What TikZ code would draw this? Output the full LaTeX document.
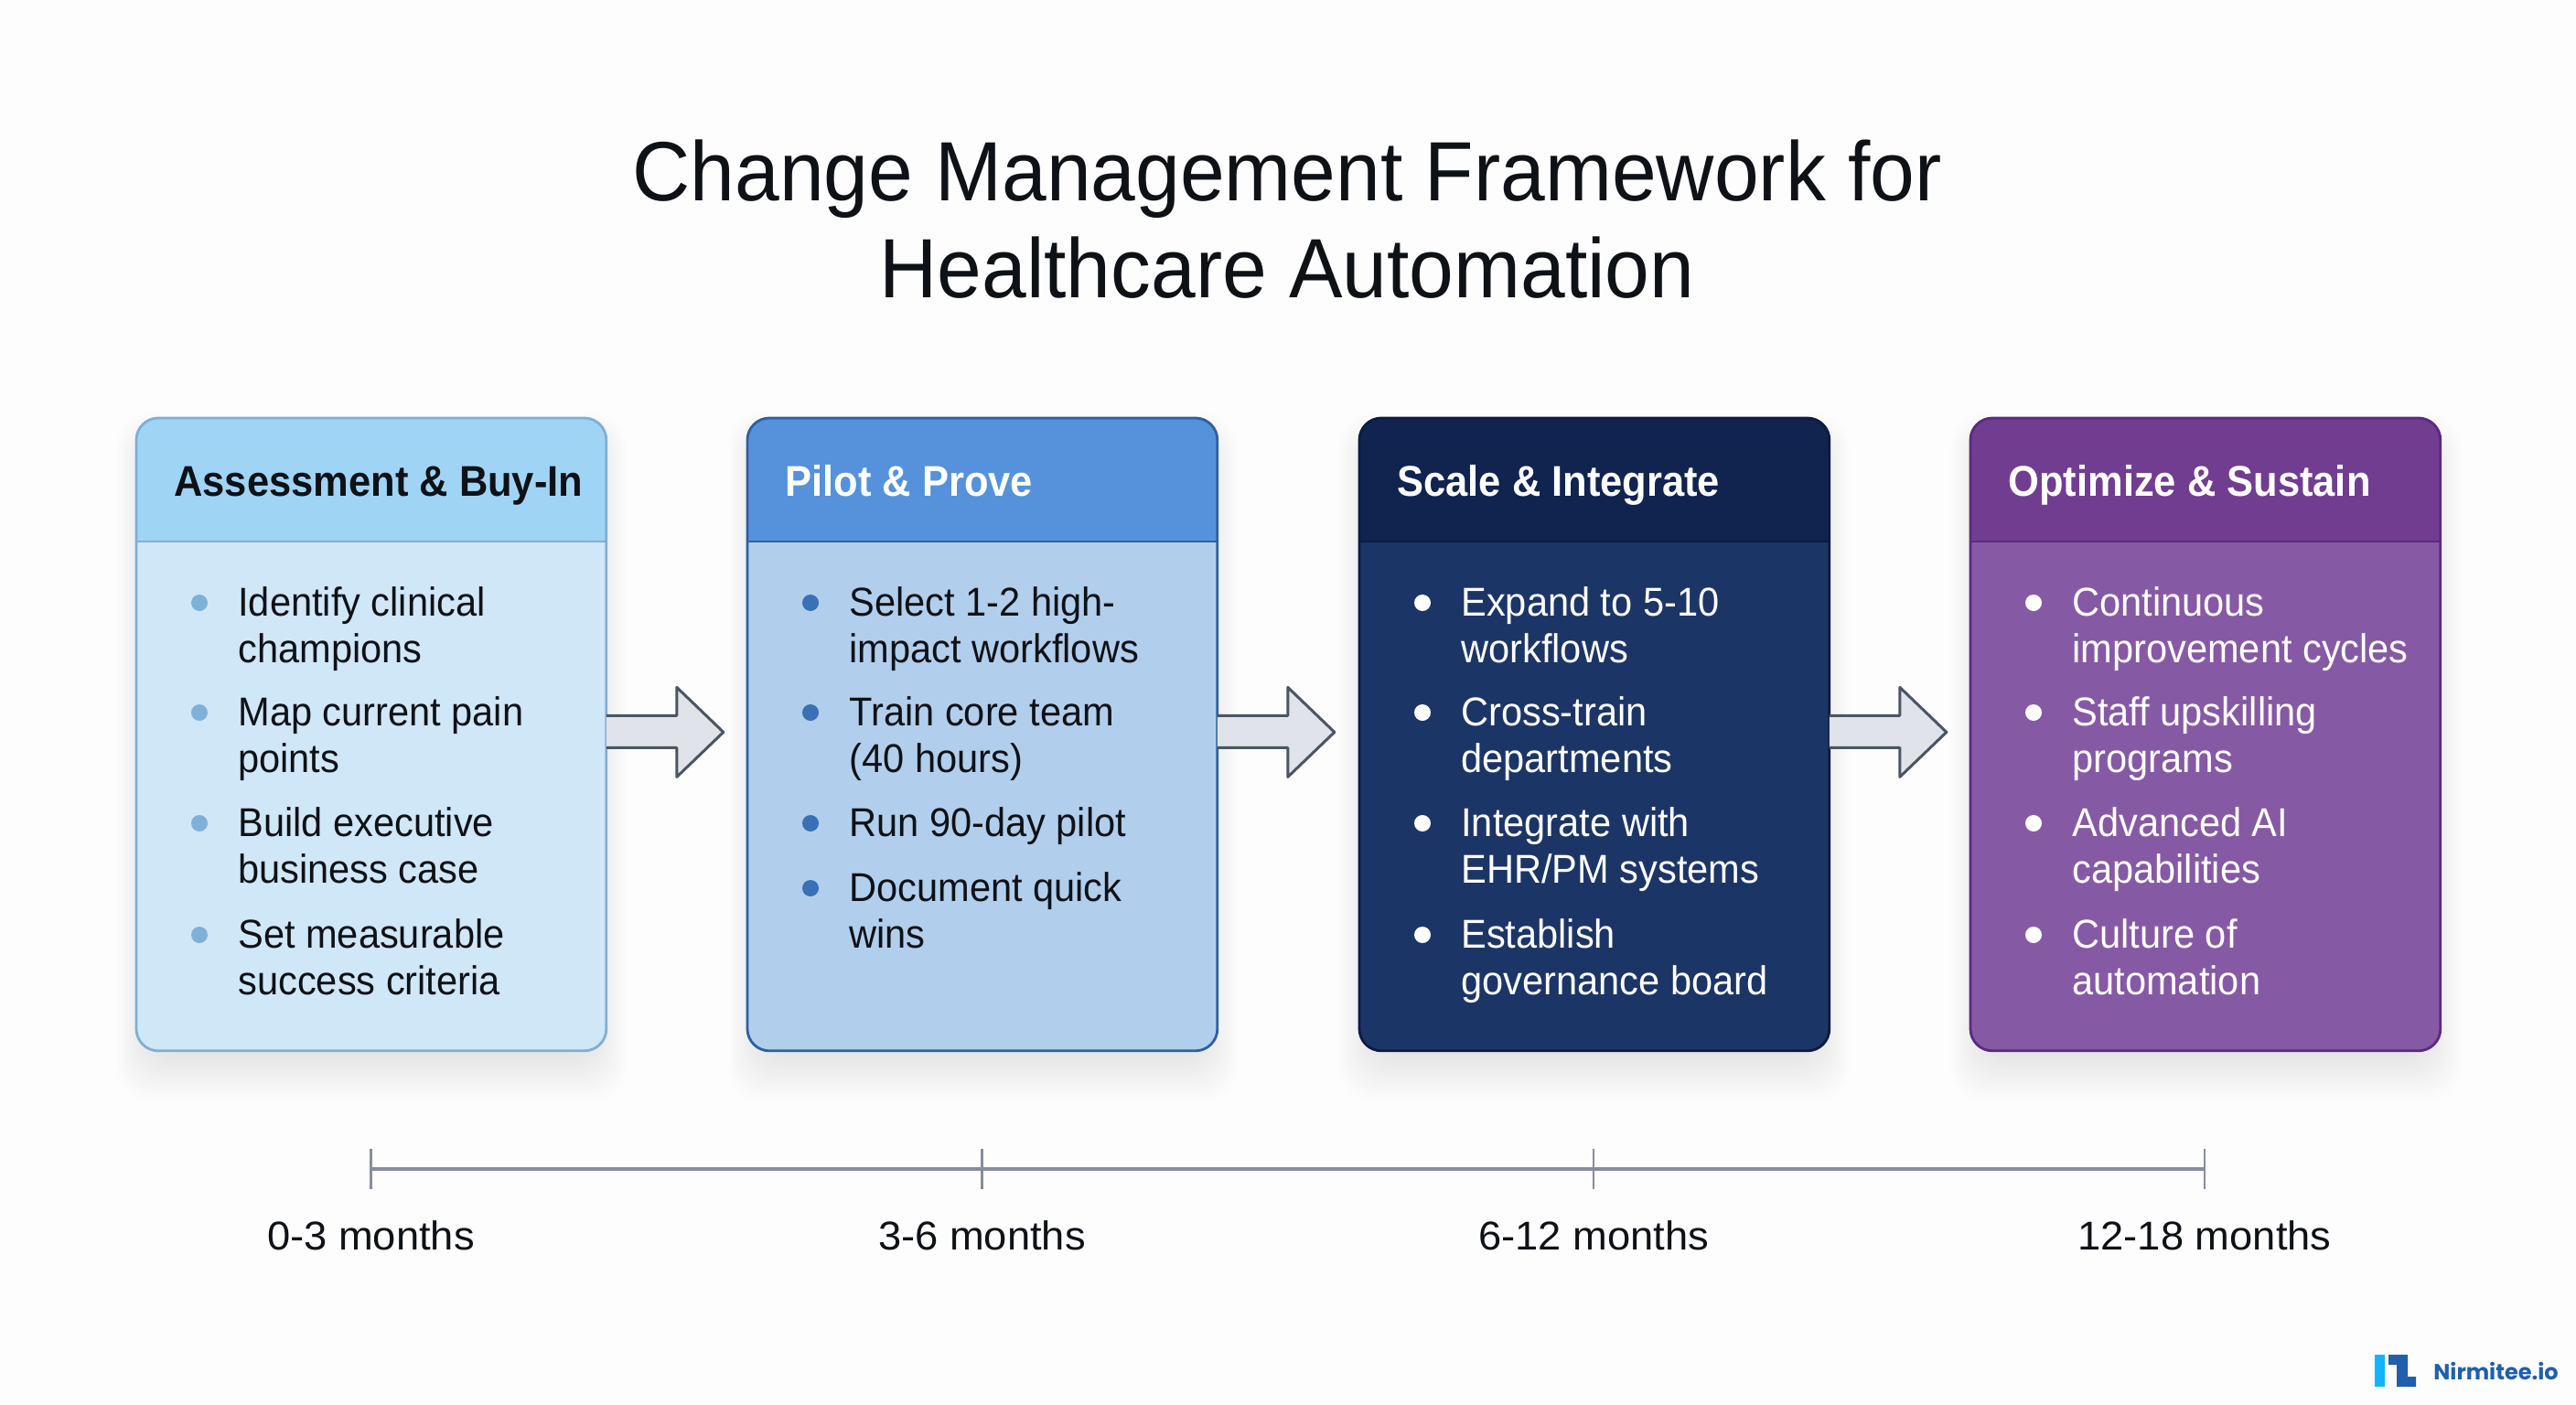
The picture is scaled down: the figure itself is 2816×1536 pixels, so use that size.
\documentclass[tikz,border=0pt]{standalone}
\usepackage{fontspec}
\setmainfont[FakeStretch=0.945]{Liberation Sans}
\newfontfamily\titlefont[FakeStretch=0.952]{Liberation Sans}
\newfontfamily\headfont[FakeStretch=0.925]{Liberation Sans}
\newfontfamily\timefont[FakeStretch=1.03]{Liberation Sans}
\newfontfamily\logofont{Poppins}
\usetikzlibrary{calc}
\definecolor{bgc}{HTML}{FDFDFE}
\definecolor{inkc}{HTML}{0E1116}
\definecolor{ha}{HTML}{A0D4F5}\definecolor{ba}{HTML}{D0E7F8}\definecolor{sa}{HTML}{7FAFD5}\definecolor{da}{HTML}{7FB1D8}
\definecolor{hb}{HTML}{5592DB}\definecolor{bb}{HTML}{B1CFEC}\definecolor{sb}{HTML}{2F609F}\definecolor{db}{HTML}{3A70B5}
\definecolor{hc}{HTML}{11234F}\definecolor{bc}{HTML}{1C3567}\definecolor{sc}{HTML}{0D1B40}
\definecolor{hd}{HTML}{713D91}\definecolor{bd}{HTML}{8659A5}\definecolor{sd}{HTML}{5A2A7F}
\definecolor{arf}{HTML}{E0E4EA}\definecolor{ars}{HTML}{4B5563}
\definecolor{tlc}{HTML}{868E9C}
\definecolor{logoa}{HTML}{12B5FB}\definecolor{logob}{HTML}{1F5FAE}
\tikzset{
  x=0.5pt,y=-0.5pt,
  card/.style={rectangle,draw=none,rounded corners=12pt,minimum width=256.5pt,minimum height=345.5pt,anchor=north west,inner sep=0pt},
  headtext/.style={anchor=base west,inner sep=0pt,font=\headfont\fontsize{23.5}{28}\selectfont\bfseries},
  itemtext/.style={anchor=north west,inner sep=0pt,align=left,font=\fontsize{22}{25.5}\selectfont},
  dot/.style={circle,inner sep=0pt,minimum size=9pt},
  timetext/.style={inner sep=0pt,anchor=base,text=inkc,font=\timefont\fontsize{22}{25.5}\selectfont},
  tick/.style={inner sep=0pt,minimum width=0pt,minimum height=22pt,draw=none},
}
\newcommand{\cardshadow}[1]{%
  \foreach \k in {0,...,25}{
    \fill[black,opacity=0.0045,rounded corners=18pt]
      ($(#1.north west)+(-22+1.5*\k,-4+1.5*\k)$) rectangle ($(#1.south east)+(22-1.5*\k,56-2.2*\k)$);
  }}
\newcommand{\cardface}[6]{% name, head, body, stroke, title colour, title
  \node[card,fill=#3] (#1) at (0,457) {};
  \fill[#2] (0,592) [rounded corners=12pt] -- (0,457) -- (513,457) [sharp corners] -- (513,592) -- cycle;
  \draw[#4,line width=1.4pt] (0,592) -- (513,592);
  \draw[#4,line width=1.4pt,rounded corners=12pt] (#1.north west) rectangle (#1.south east);
  \node[headtext,text=#5] (#1h) at (41,542) {#6};}
\newcommand{\bul}[5]{% name, y, dot colour, text colour, text
  \node[dot,fill=#3] (#1d) at (69,#2) {};
  \node[itemtext,text=#4] (#1t) at (111,#2-22) {\strut #5};}
\newcommand{\flowarrow}[1]{%
  \coordinate (s) at ($(#1.east)+(0,-2.5)$);
  \fill[arf] ($(s)+(0,-18)$) -- ($(s)+(77,-18)$) -- ($(s)+(77,-49)$) -- ($(s)+(128,0)$) -- ($(s)+(77,49)$) -- ($(s)+(77,17)$) -- ($(s)+(0,17)$) -- cycle;
  \draw[ars,line width=1.5pt,line join=round] ($(s)+(0,-18)$) -- ($(s)+(77,-18)$) -- ($(s)+(77,-49)$) -- ($(s)+(128,0)$) -- ($(s)+(77,49)$) -- ($(s)+(77,17)$) -- ($(s)+(0,17)$);}
\begin{document}
\begin{tikzpicture}
\fill[bgc] (0,0) rectangle (2816,1536);
\useasboundingbox (0,0) rectangle (2816,1536);
\node[inner sep=0pt,align=center,text=inkc,font=\titlefont\fontsize{46}{53}\selectfont] (title) at (1407,240) {Change Management Framework for\\Healthcare Automation};
\foreach \n/\xx in {sha/149,shb/817,shc/1486,shd/2154}{
  \node[card] (\n) at (\xx,456) {};
  \cardshadow{\n}
}
\begin{scope}[shift={(149,0)}]
\cardface{boxa}{ha}{ba}{sa}{inkc}{Assessment \& Buy-In}
\bul{a1}{659}{da}{inkc}{Identify clinical\\champions}
\bul{a2}{779}{da}{inkc}{Map current pain\\points}
\bul{a3}{900}{da}{inkc}{Build executive\\business case}
\bul{a4}{1022}{da}{inkc}{Set measurable\\success criteria}
\end{scope}
\begin{scope}[shift={(817,0)}]
\cardface{boxb}{hb}{bb}{sb}{white}{Pilot \& Prove}
\bul{b1}{659}{db}{inkc}{Select 1-2 high-\\impact workflows}
\bul{b2}{779}{db}{inkc}{Train core team\\(40 hours)}
\bul{b3}{900}{db}{inkc}{Run 90-day pilot}
\bul{b4}{971}{db}{inkc}{Document quick\\wins}
\end{scope}
\begin{scope}[shift={(1486,0)}]
\cardface{boxc}{hc}{bc}{sc}{white}{Scale \& Integrate}
\bul{c1}{659}{white}{white}{Expand to 5-10\\workflows}
\bul{c2}{779}{white}{white}{Cross-train\\departments}
\bul{c3}{900}{white}{white}{Integrate with\\EHR/PM systems}
\bul{c4}{1022}{white}{white}{Establish\\governance board}
\end{scope}
\begin{scope}[shift={(2154,0)}]
\cardface{boxd}{hd}{bd}{sd}{white}{Optimize \& Sustain}
\bul{d1}{659}{white}{white}{Continuous\\improvement cycles}
\bul{d2}{779}{white}{white}{Staff upskilling\\programs}
\bul{d3}{900}{white}{white}{Advanced AI\\capabilities}
\bul{d4}{1022}{white}{white}{Culture of\\automation}
\end{scope}
\flowarrow{boxa}
\flowarrow{boxb}
\flowarrow{boxc}
\foreach \n/\xx/\lab in {ta/405.5/0-3 months,tb/1073.5/3-6 months,tc/1742/6-12 months,td/2410/12-18 months}{
  \node[tick] (\n) at (\xx,1278) {};
  \draw[tlc,line width=1.2pt] (\n.north) -- (\n.south);
  \node[timetext] (\n l) at (\xx,1366) {\lab};
}
\draw[tlc,line width=1.8pt] (ta) -- (tb);
\draw[tlc,line width=1.8pt] (tb) -- (tc);
\draw[tlc,line width=1.8pt] (tc) -- (td);
\fill[logoa] (2596,1481) rectangle (2607,1516);
\fill[logob] (2611,1481) -- (2632,1481) -- (2632,1505) -- (2641,1505) -- (2641,1516) -- (2620,1516) -- (2620,1492) -- (2611,1492) -- cycle;
\node[anchor=base west,inner sep=0pt,text=logob,font=\logofont\bfseries\fontsize{12}{15}\selectfont] (logo) at (2660,1508) {Nirmitee.io};
\end{tikzpicture}
\end{document}
